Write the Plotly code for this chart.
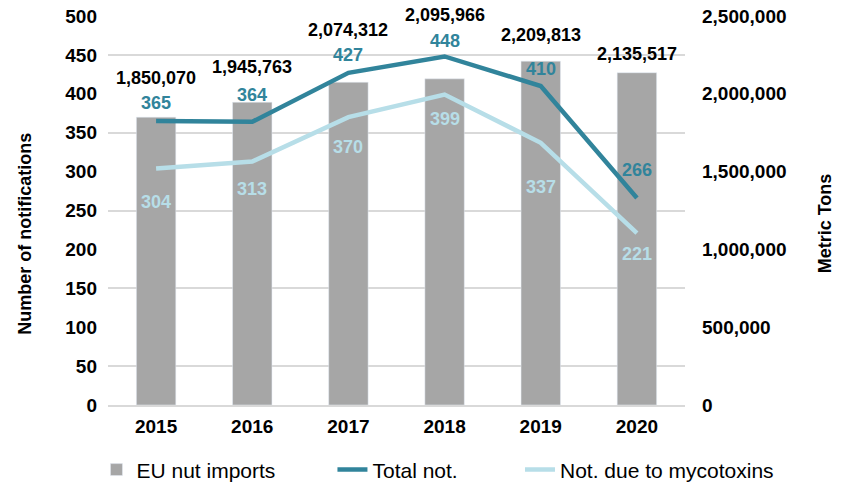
import plotly.graph_objects as go

# data
years = ["2015", "2016", "2017", "2018", "2019", "2020"]
eu_nut_imports = [1850070, 1945763, 2074312, 2095966, 2209813, 2135517]
total_not = [365, 364, 427, 448, 410, 266]
myco_not = [304, 313, 370, 399, 337, 221]

# label offsets (px) so the numbers don't sit on the lines
bar_label_shift = [39, 35, 52, 64, 26, 19]
total_label_shift = [18, 27, 18, 15, 17, 28]
myco_label_shift = [-34, -28, -30, -24, -44, -21]

FONT = "Liberation Sans, Arial, sans-serif"
GREY = "#A6A6A6"
DARK = "#31849B"
LIGHT = "#B7DEE8"
GRID = "#D9D9D9"

fig = go.Figure()

# bars on the primary (right-hand) axis so the lines overlay them
fig.add_trace(go.Bar(
    x=years, y=eu_nut_imports, name="EU nut imports",
    marker_color=GREY, width=0.41, yaxis="y", legend="legend",
))
fig.add_trace(go.Scatter(
    x=years, y=total_not, name="Total not.", mode="lines",
    line=dict(color=DARK, width=4.5), yaxis="y2", legend="legend2",
))
fig.add_trace(go.Scatter(
    x=years, y=myco_not, name="Not. due to mycotoxins", mode="lines",
    line=dict(color=LIGHT, width=4.5), yaxis="y2", legend="legend3",
))

# annotations on a category axis take the category index, not the name
annotations = []
for i, (v, s) in enumerate(zip(eu_nut_imports, bar_label_shift)):
    annotations.append(dict(x=i, y=v, xref="x", yref="y", text=f"{v:,}",
                            showarrow=False, yshift=s,
                            font=dict(family=FONT, size=18, color="black", weight="bold")))
for i, (v, s) in enumerate(zip(total_not, total_label_shift)):
    annotations.append(dict(x=i, y=v, xref="x", yref="y2", text=str(v),
                            showarrow=False, yshift=s,
                            font=dict(family=FONT, size=18, color=DARK, weight="bold")))
for i, (v, s) in enumerate(zip(myco_not, myco_label_shift)):
    annotations.append(dict(x=i, y=v, xref="x", yref="y2", text=str(v),
                            showarrow=False, yshift=s,
                            font=dict(family=FONT, size=18, color=LIGHT, weight="bold")))

# axis titles
annotations.append(dict(x=0, y=0.44, xref="paper", yref="paper", xshift=-83,
                        xanchor="center", yanchor="middle",
                        text="Number of notifications", textangle=-90, showarrow=False,
                        font=dict(family=FONT, size=18, color="black", weight="bold")))
annotations.append(dict(x=1, y=0.467, xref="paper", yref="paper", xshift=140,
                        xanchor="center", yanchor="middle",
                        text="Metric Tons", textangle=-90, showarrow=False,
                        font=dict(family=FONT, size=18, color="black", weight="bold")))

tick_font = dict(family=FONT, size=19, color="black", weight="bold")
legend_common = dict(orientation="h", yref="container", yanchor="middle", y=0.035,
                     xanchor="left", font=dict(family=FONT, size=21, color="black"),
                     bgcolor="rgba(0,0,0,0)")

fig.update_layout(
    width=847, height=487,
    margin=dict(l=108, r=162, t=16, b=82, autoexpand=False),
    plot_bgcolor="white", paper_bgcolor="white",
    xaxis=dict(type="category", range=[-0.5, 5.5], tickfont=tick_font, showgrid=False,
               showline=True, linecolor=GRID, linewidth=2, ticks="",
               ticklabelstandoff=3, automargin=False),
    yaxis=dict(range=[0, 2500000], dtick=500000, tickformat=",", side="right",
               tickfont=tick_font, showgrid=False, zeroline=False, ticks="",
               ticklabelstandoff=16, automargin=False,
               minor=dict(dtick=250000, showgrid=True, gridcolor=GRID, gridwidth=2)),
    yaxis2=dict(range=[0, 500], dtick=50, side="left", overlaying="y",
                tickfont=tick_font, showgrid=False, zeroline=False, ticks="",
                ticklabelstandoff=10, automargin=False),
    annotations=annotations,
    showlegend=True,
    legend=dict(x=-0.020, **legend_common),
    legend2=dict(x=0.389, **legend_common),
    legend3=dict(x=0.714, **legend_common),
)

# drop the page's default 8px body margin so the figure fills the window
fig.write_html("out.html", config={"displayModeBar": False},
               post_script="document.body.style.margin = '0';")
